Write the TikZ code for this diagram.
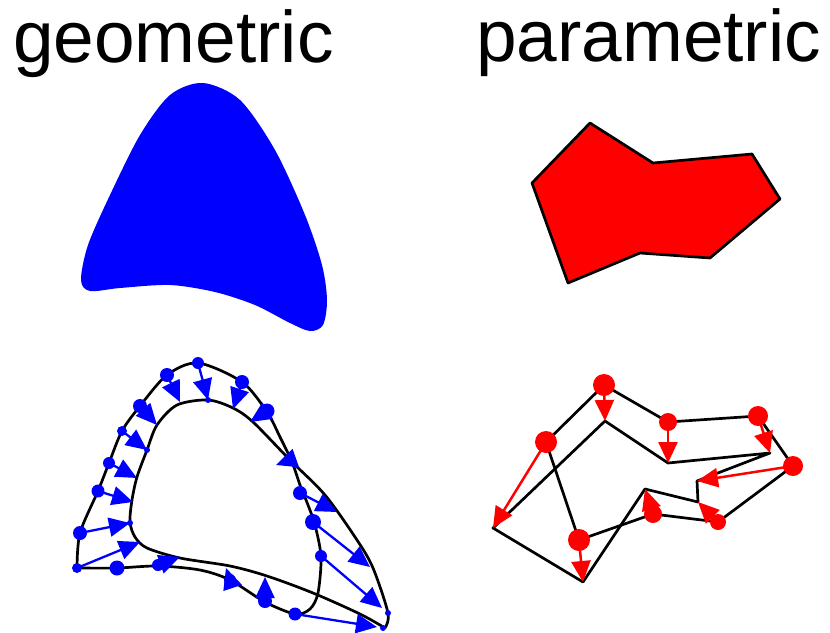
\documentclass[tikz,border=0pt]{standalone}
\usepackage{fontspec}
\setmainfont{Liberation Sans}
\usepackage{tikz}
\usetikzlibrary{arrows.meta}
\definecolor{GeoBlue}{HTML}{0000FF}
\definecolor{ParRed} {HTML}{FF0000}

\tikzset{
  heading/.style={font=\fontsize{73}{73}\selectfont, anchor=base west, inner sep=0pt},
  outline/.style={draw=black, line width=2.7pt, line join=round},
  quivertip/.tip={Triangle[length=21pt, width=19pt]},
  geoarrow/.style={GeoBlue, line width=2.3pt, -quivertip},
  pararrow/.style={ParRed, line width=2.5pt, -quivertip},
}

\begin{document}
\begin{tikzpicture}[x=1pt, y=-1pt]
  \useasboundingbox (0,0) rectangle (830,632);

  % titles
  \node[heading] (geoTitle) at (13,62) {geometric};
  \node[heading] (parTitle) at (476,61) {parametric};

  % geometric: filled shape
  \fill[GeoBlue] plot[smooth cycle] coordinates {
    (203,83) (240,100) (275,150) (305,215) (322,265) (327,300) (323,325)
    (310,331) (290,323) (255,305) (215,292) (170,285) (120,288) (90,291)
    (81,280) (88,245) (110,195) (140,135) (170,95)};

  % parametric: filled polygon
  \filldraw[fill=ParRed, outline] (590,123) -- (653,163) -- (752,154) -- (780,199)
    -- (710,258) -- (640,253) -- (568,283) -- (532,183) -- cycle;

  % geometric: two curves
  \draw[outline] plot[smooth] coordinates {
    (77,568) (117,568) (158,566) (200,570) (230,580) (265,602) (295,614)
    (310,609) (318,593) (321,557) (315,525) (308,505) (300,485) (292,462)
    (280,437) (267,412) (242,382) (198,363) (167,375) (140,406) (122,431)
    (109,463) (98,491) (80,533) (77,568)};
  \draw[outline] plot[smooth] coordinates {
    (385,628) (360,614) (313,593) (267,576) (230,566) (180,558) (147,548)
    (135,537) (130,522) (132,500) (137,477) (147,450) (157,425) (177,405)
    (208,400) (233,408) (253,422) (290,460) (325,495) (357,540) (373,568)
    (388,613) (385,628)};

  % geometric: arrows from curve to curve
  \foreach \i/\s/\t in {1/{198,363}/{208,400}, 2/{167,375}/{180,402},
      3/{242,382}/{233,409}, 4/{140,406}/{157,425}, 5/{267,411}/{250,422},
      6/{122,431}/{147,450}, 7/{109,463}/{137,478}, 8/{98,491}/{133,502},
      9/{80,533}/{130,523}, 10/{77,568}/{140,542}, 11/{158,565}/{180,557},
      12/{230,580}/{226,568}, 13/{265,601}/{265,577}, 14/{295,614}/{377,627},
      15/{321,556}/{382,608}, 16/{313,522}/{370,567}, 17/{300,493}/{337,512},
      18/{293,459}/{276,465}} {
    \coordinate (gs\i) at (\s);
    \coordinate (gt\i) at (\t);
    \draw[geoarrow] (gs\i) -- (gt\i);
  }
  \foreach \p/\r in {{198,363}/6, {167,375}/7, {242,382}/7, {140,406}/7,
      {267,411}/7.5, {122,431}/5, {109,463}/6, {98,491}/6.5, {80,533}/7,
      {77,568}/5, {117,568}/7.5, {158,565}/6, {230,580}/6, {265,601}/7,
      {295,614}/6.5, {321,556}/6, {313,522}/8, {300,493}/7,
      {208,400}/3, {147,450}/3, {130,523}/3, {388,613}/3, {383,628}/3}
    \fill[GeoBlue] (\p) circle (\r pt);

  % parametric: control points and their moved copies
  \coordinate (pA) at (604,385);  \coordinate (qA) at (605,421);
  \coordinate (pB) at (668,422);  \coordinate (qB) at (668,463);
  \coordinate (pC) at (758,416);  \coordinate (qC) at (770,453);
  \coordinate (pD) at (793,466);  \coordinate (qD) at (697,481);
  \coordinate (pE) at (718,522);  \coordinate (qE) at (698,502);
  \coordinate (pF) at (653,514);  \coordinate (qF) at (645,489);
  \coordinate (pG) at (579,540);  \coordinate (qG) at (583,582);
  \coordinate (pH) at (546,442);  \coordinate (qH) at (493,528);

  \draw[outline] (pA) -- (pB) -- (pC) -- (pD) -- (pE) -- (pF) -- (pG) -- (pH) -- cycle;
  \draw[outline] (qA) -- (qB) -- (qC) -- (qD) -- (qE) -- (qF) -- (qG) -- (qH) -- cycle;

  \foreach \n/\r in {A/11, B/9, C/10, D/10, E/8, F/9, G/11, H/11} {
    \draw[pararrow] (p\n) -- (q\n);
    \fill[ParRed] (p\n) circle (\r pt);
  }
\end{tikzpicture}
\end{document}
